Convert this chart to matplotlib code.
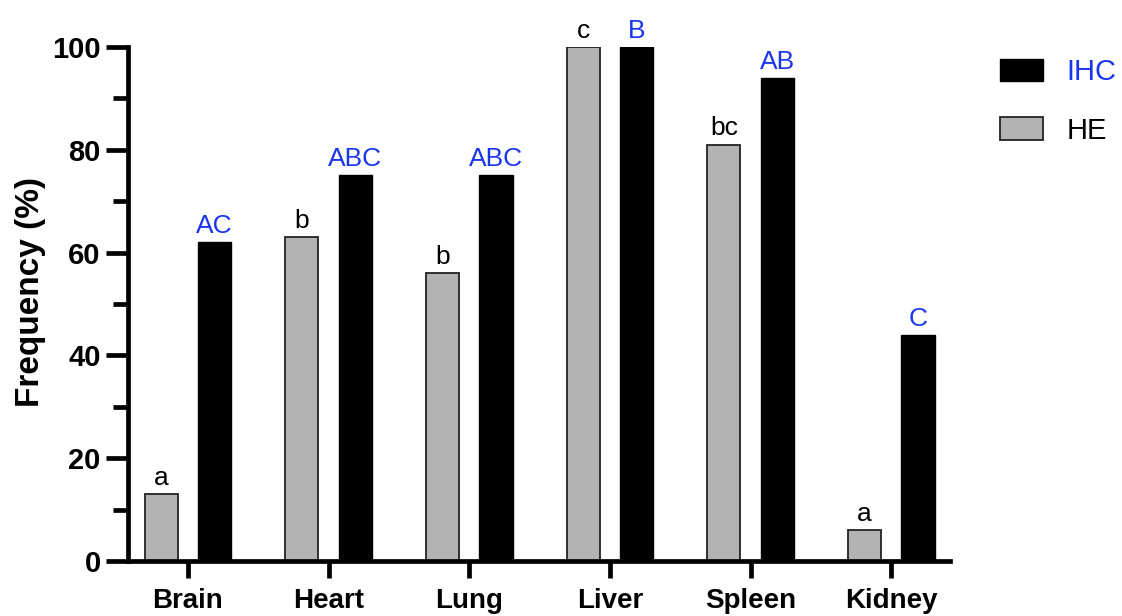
import numpy as np
import matplotlib.pyplot as plt
from matplotlib.ticker import MultipleLocator

plt.rcParams['font.family'] = ['Liberation Sans', 'DejaVu Sans']

# data
organs = ['Brain', 'Heart', 'Lung', 'Liver', 'Spleen', 'Kidney']
he_values = [13, 63, 56, 100, 81, 6]
ihc_values = [62, 75, 75, 100, 94, 44]
he_letters = ['a', 'b', 'b', 'c', 'bc', 'a']
ihc_letters = ['AC', 'ABC', 'ABC', 'B', 'AB', 'C']

blue = '#1a35f0'
x = np.arange(len(organs))
w = 0.235
off = 0.19

fig = plt.figure(figsize=(11.22, 6.16), dpi=100)
ax = fig.add_axes([0.114, 0.0893, 0.733, 0.8344])

b_he = ax.bar(x - off, he_values, w, color='#b3b3b3', edgecolor='#222222', linewidth=1.3, label='HE')
b_ihc = ax.bar(x + off, ihc_values, w, color='black', edgecolor='black', linewidth=1.0, label='IHC')

# significance letters over bars
for xi, v, t in zip(x - off, he_values, he_letters):
    ax.annotate(t, (xi, v), xytext=(0, 3), textcoords='offset points',
                ha='center', va='bottom', fontsize=19, color='black')
for xi, v, t in zip(x + off, ihc_values, ihc_letters):
    ax.annotate(t, (xi, v), xytext=(0, 3), textcoords='offset points',
                ha='center', va='bottom', fontsize=19, color=blue)

ax.set_xlim(-0.427, 5.42)
ax.set_ylim(0, 100)
ax.set_xticks(x)
ax.set_xticklabels(organs, fontsize=20, fontweight='bold')
ax.yaxis.set_major_locator(MultipleLocator(20))
ax.yaxis.set_minor_locator(MultipleLocator(10))
for lab in ax.get_yticklabels():
    lab.set_fontweight('bold')
    lab.set_fontsize(21)

ax.tick_params(axis='y', which='major', length=16, width=3.4, pad=3.5)
ax.tick_params(axis='y', which='minor', length=10.5, width=3.4)
ax.tick_params(axis='x', which='major', length=12, width=3.4, pad=7.5)

for s in ['top', 'right']:
    ax.spines[s].set_visible(False)
for s in ['left', 'bottom']:
    ax.spines[s].set_linewidth(3.4)
ax.spines['bottom'].set_bounds(-0.427, 5.42)

ax.set_ylabel('Frequency (%)', fontsize=24, fontweight='bold')
ax.yaxis.set_label_coords(-0.10, 0.523)

leg = fig.legend(handles=[b_ihc, b_he], loc='upper left',
                 bbox_to_anchor=(1000 / 1122, 1 - 58 / 616),
                 frameon=False, fontsize=21, handlelength=1.48, handleheight=0.82,
                 labelspacing=1.05, handletextpad=0.8, borderpad=0, borderaxespad=0)
leg.get_texts()[0].set_color(blue)

fig.savefig('out.png', dpi=100)
